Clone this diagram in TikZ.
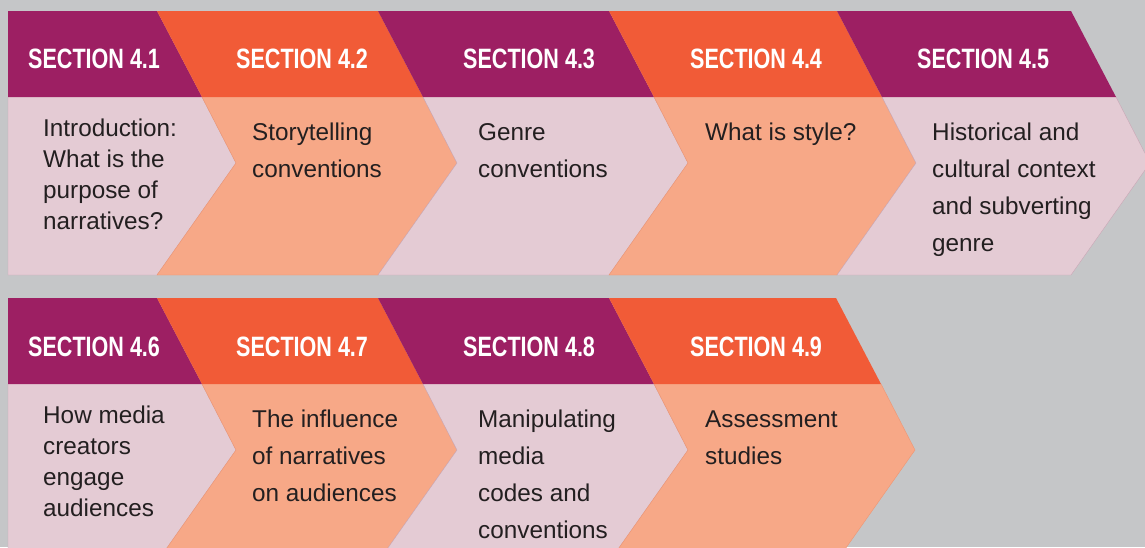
\documentclass[tikz,border=0pt]{standalone}
\usepackage{fontspec}
\setmainfont{Liberation Sans}
\newfontfamily\headfont{Liberation Sans}[FakeStretch=0.77]

\definecolor{plum}{HTML}{9D1F63}
\definecolor{flame}{HTML}{F15B37}
\definecolor{blush}{HTML}{E4CBD4}
\definecolor{peach}{HTML}{F7A887}
\definecolor{blushline}{HTML}{C9A7B6}
\definecolor{peachline}{HTML}{EE9673}
\definecolor{paper}{HTML}{C5C6C8}
\definecolor{ink}{HTML}{231F20}

\tikzset{
  sechead/.style={anchor=base west, inner sep=0pt, text=white,
    font=\headfont\bfseries\fontsize{28}{28}\selectfont},
  % anchored on the baseline of the last line
  sectext/.style={anchor=base west, inner sep=0pt, text=ink, align=left,
    font=\fontsize{24.3}{37}\selectfont},
  firsttext/.style={sectext, font=\fontsize{24.3}{31}\selectfont},
}

\begin{document}
\begin{tikzpicture}[x=1pt, y=-1pt]
\useasboundingbox (0,0) rectangle (1145,547);
\clip (0,0) rectangle (1145,547);
\fill[paper] (0,0) rectangle (1145,547);

% top row, 4.1 to 4.5
\fill[blush] (8,97) -- (202,97) -- (236,163) -- (157,275) -- (8,275) -- cycle;
\draw[blushline, line width=0.4pt] (202,97) -- (236,163) -- (157,275) -- (8,275) -- (8,97);
\fill[plum] (8,11) -- (157,11) -- (202,97) -- (8,97) -- cycle;
\foreach \a/\b/\lite/\edge/\dark in {157/378/peach/peachline/flame,
    378/609/blush/blushline/plum, 609/837/peach/peachline/flame,
    837/1071/blush/blushline/plum} {
  \fill[\lite] (\a+45,97) -- (\b+45,97) -- (\b+79,163) -- (\b,275)
    -- (\a,275) -- (\a+79,163) -- cycle;
  \draw[\edge, line width=0.4pt] (\b+45,97) -- (\b+79,163) -- (\b,275)
    -- (\a,275) -- (\a+79,163) -- (\a+45,97);
  \fill[\dark] (\a,11) -- (\b,11) -- (\b+45,97) -- (\a+45,97) -- cycle;
}

% bottom row, 4.6 to 4.9
\begin{scope}[shift={(0,287)}]
\fill[blush] (8,97) -- (202,97) -- (236,163) -- (157,275) -- (8,275) -- cycle;
\draw[blushline, line width=0.4pt] (202,97) -- (236,163) -- (157,275) -- (8,275) -- (8,97);
\fill[plum] (8,11) -- (157,11) -- (202,97) -- (8,97) -- cycle;
\foreach \a/\b/\lite/\edge/\dark in {157/378/peach/peachline/flame,
    378/609/blush/blushline/plum, 609/836/peach/peachline/flame} {
  \fill[\lite] (\a+45,97) -- (\b+45,97) -- (\b+79,163) -- (\b,275)
    -- (\a,275) -- (\a+79,163) -- cycle;
  \draw[\edge, line width=0.4pt] (\b+45,97) -- (\b+79,163) -- (\b,275)
    -- (\a,275) -- (\a+79,163) -- (\a+45,97);
  \fill[\dark] (\a,11) -- (\b,11) -- (\b+45,97) -- (\a+45,97) -- cycle;
}
\end{scope}

% headings
\node[sechead] (h41) at (28,68) {SECTION 4.1};
\node[sechead] (h42) at (236,68) {SECTION 4.2};
\node[sechead] (h43) at (463,68) {SECTION 4.3};
\node[sechead] (h44) at (690,68) {SECTION 4.4};
\node[sechead] (h45) at (917,68) {SECTION 4.5};
\node[sechead] (h46) at (28,356) {SECTION 4.6};
\node[sechead] (h47) at (236,356) {SECTION 4.7};
\node[sechead] (h48) at (463,356) {SECTION 4.8};
\node[sechead] (h49) at (690,356) {SECTION 4.9};

% section topics
\node[firsttext] (t41) at (43,229) {Introduction:\\What is the\\purpose of\\narratives?};
\node[sectext] (t42) at (252,177) {Storytelling\\conventions};
\node[sectext] (t43) at (478,177) {Genre\\conventions};
\node[sectext] (t44) at (705,140) {What is style?};
\node[sectext] (t45) at (932,251) {Historical and\\cultural context\\and subverting\\genre};
\node[firsttext] (t46) at (43,516) {How media\\creators\\engage\\audiences};
\node[sectext] (t47) at (252,501) {The influence\\of narratives\\on audiences};
\node[sectext] (t48) at (478,538) {Manipulating\\media\\codes and\\conventions};
\node[sectext] (t49) at (705,464) {Assessment\\studies};
\end{tikzpicture}
\end{document}
